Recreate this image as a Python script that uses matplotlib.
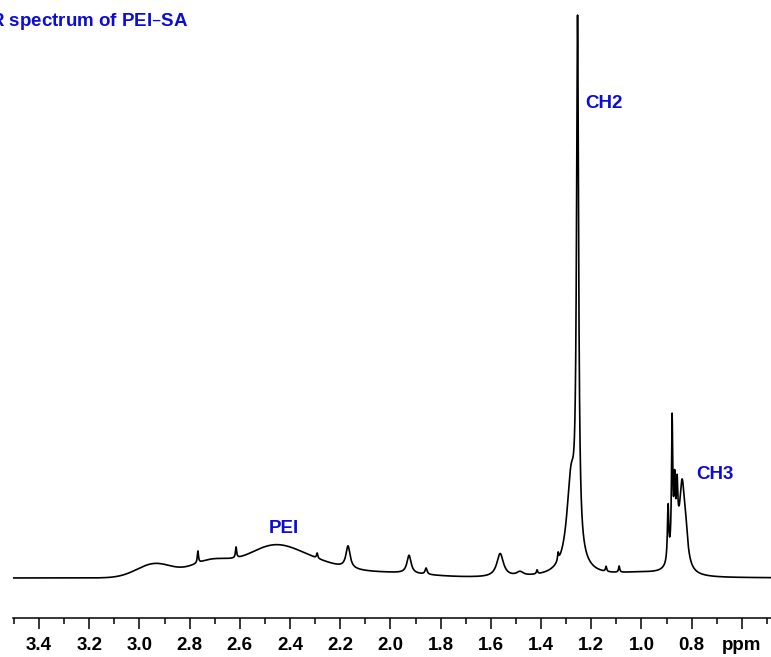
import matplotlib.pyplot as plt
import numpy as np

plt.rcParams['font.family'] = ['Liberation Sans', 'DejaVu Sans']

# peaks: position (ppm), height (CH2 ~ 100), half width (ppm)
# broad humps of the PEI backbone are drawn as gaussians
broad_ppm = [2.938, 2.719, 2.472, 2.288, 2.022, 1.006]
broad_height = [2.5, 2.8, 5.3, 1.8, 0.9, 0.7]
broad_width = [0.072, 0.080, 0.112, 0.112, 0.159, 0.100]

# sharper lines as lorentzians
sharp_ppm = [2.767, 2.615, 2.292, 2.169, 1.926, 1.858, 1.563, 1.484, 1.416, 1.332,
             1.2805, 1.2645, 1.2546, 1.141, 1.089,
             0.894, 0.878, 0.868, 0.862, 0.858, 0.838, 0.824]
sharp_height = [2.1, 1.9, 0.9, 3.9, 3.2, 1.1, 4.1, 0.7, 0.7, 1.4,
                15.0, 1.8, 92.0, 0.9, 1.1,
                9.7, 23.0, 9.7, 4.9, 8.0, 13.3, 4.4]
sharp_width = [0.0028, 0.0028, 0.0028, 0.010, 0.010, 0.0048, 0.016, 0.016, 0.0028, 0.0028,
               0.020, 0.060, 0.005, 0.0028, 0.0028,
               0.0032, 0.0028, 0.0032, 0.020, 0.0032, 0.012, 0.010]

tick_pos = [3.4, 3.2, 3.0, 2.8, 2.6, 2.4, 2.2, 2.0, 1.8, 1.6, 1.4, 1.2, 1.0, 0.8, 0.6]
tick_labels = ['3.4', '3.2', '3.0', '2.8', '2.6', '2.4', '2.2', '2.0', '1.8', '1.6',
               '1.4', '1.2', '1.0', '0.8', 'ppm']

labels = ['CH2', 'CH3', 'PEI']
label_ppm = [1.149, 0.707, 2.424]
label_height = [83.9, 18.2, 8.8]

title = '$^1$H NMR spectrum of PEI–SA'
blue = '#0c0cd8'


def spectrum(ppm):
    y = np.zeros_like(ppm)
    for c, h, w in zip(broad_ppm, broad_height, broad_width):
        y += h * np.exp(-0.5 * ((ppm - c) / w) ** 2)
    for c, h, w in zip(sharp_ppm, sharp_height, sharp_width):
        y += h / (1 + ((ppm - c) / w) ** 2)
    return y


ppm = np.linspace(3.5036, 0.484, 24000)
intensity = spectrum(ppm)

fig = plt.figure(figsize=(7.71, 6.57), dpi=100)
ax = fig.add_axes([13 / 771, 39 / 657, 1 - 13 / 771, 1 - 39 / 657])
ax.plot(ppm, intensity, color='black', linewidth=1.2)

ax.set_xlim(3.5036, 0.484)
ax.set_ylim(-7.07, 102.1)
ax.set_xticks(tick_pos)
ax.set_xticklabels(tick_labels, fontsize=13.5, fontweight='bold')
ax.set_xticks(np.arange(3.5, 0.45, -0.1), minor=True)
ax.tick_params(axis='x', which='major', direction='out', length=8, width=1.1, pad=6)
ax.tick_params(axis='x', which='minor', direction='out', length=4, width=1.1)
ax.set_yticks([])
for s in ['left', 'right', 'top']:
    ax.spines[s].set_visible(False)
ax.spines['bottom'].set_linewidth(1.1)

for text, x, y in zip(labels, label_ppm, label_height):
    ax.text(x, y, text, color=blue, fontsize=13.5, fontweight='bold',
            ha='center', va='center')

fig.text(188 / 771, 1 - 27 / 657, title, color=blue, fontsize=13.5,
         fontweight='bold', ha='right', va='baseline')

fig.savefig('out.png', dpi=100)
plt.close()
